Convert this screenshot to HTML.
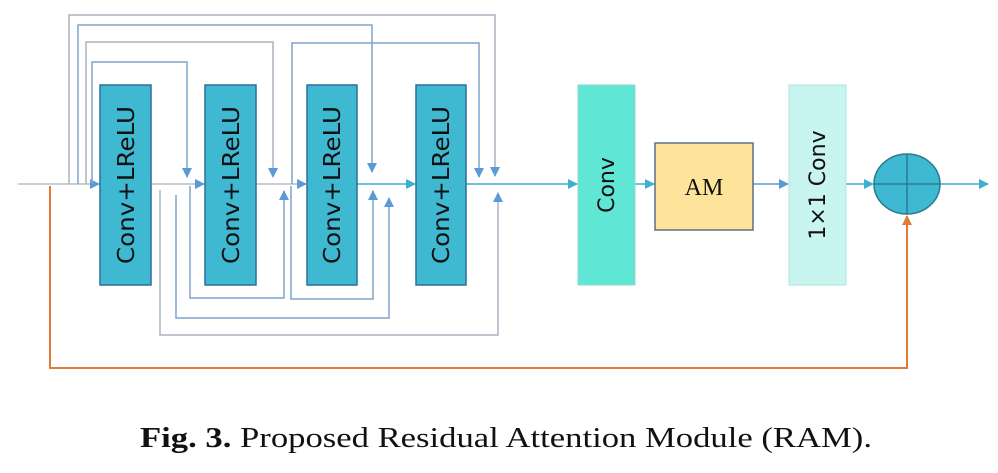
<!DOCTYPE html><html><head><style>body{margin:0;background:#fff}</style></head><body>
<svg width="998" height="468" viewBox="0 0 998 468" xmlns="http://www.w3.org/2000/svg">
<defs>
<marker id="a" markerWidth="10" markerHeight="10" refX="9" refY="5" orient="auto" markerUnits="userSpaceOnUse"><path d="M0,0L10,5L0,10z" fill="#5b9bd5"/></marker>
<marker id="c" markerWidth="10" markerHeight="10" refX="9" refY="5" orient="auto" markerUnits="userSpaceOnUse"><path d="M0,0L10,5L0,10z" fill="#3bb0cf"/></marker>
<marker id="o" markerWidth="10" markerHeight="10" refX="9" refY="5" orient="auto" markerUnits="userSpaceOnUse"><path d="M0,0L10,5L0,10z" fill="#e07b39"/></marker>
</defs>
<g fill="none" stroke-width="1.5">
<path d="M18,184H99" stroke="#b8bec6" marker-end="url(#a)"/>
<path d="M151,184H204" stroke="#b8bec6" marker-end="url(#a)"/>
<path d="M256,184H306" stroke="#b8bec6" marker-end="url(#a)"/>
<path d="M357,184H415" stroke="#3bb0cf" marker-end="url(#c)"/>
<path d="M466,184H577" stroke="#3bb0cf" marker-end="url(#c)"/>
<path d="M635,184H654" stroke="#3bb0cf" marker-end="url(#c)"/>
<path d="M753,184H788" stroke="#5b9bd5" marker-end="url(#a)"/>
<path d="M846,184H873" stroke="#3bb0cf" marker-end="url(#c)"/>
<path d="M940,184H988" stroke="#3bb0cf" marker-end="url(#c)"/>
<path d="M69,184V15H495V176" stroke="#aab4c0" marker-end="url(#a)"/>
<path d="M78,184V25H372V172" stroke="#7ea4cc" marker-end="url(#a)"/>
<path d="M86,184V42H273V177" stroke="#aab4c0" marker-end="url(#a)"/>
<path d="M92,184V62H187V177" stroke="#7ea4cc" marker-end="url(#a)"/>
<path d="M292,184V43H479V177" stroke="#7ea4cc" marker-end="url(#a)"/>
<path d="M160,190V335H498V193" stroke="#aab4c0" marker-end="url(#a)"/>
<path d="M176,195V318H389V198" stroke="#7ea4cc" marker-end="url(#a)"/>
<path d="M190,186V298H284V191" stroke="#7ea4cc" marker-end="url(#a)"/>
<path d="M291,186V299H373V191" stroke="#7ea4cc" marker-end="url(#a)"/>
<path d="M50,186V368H907V216" stroke="#e07b39" stroke-width="2" marker-end="url(#o)"/>
</g>
<g fill="#3fb8d2" stroke="#2d6e9a" stroke-width="1.5">
<rect x="100" y="85" width="51" height="200"/><rect x="205" y="85" width="51" height="200"/><rect x="307" y="85" width="50" height="200"/><rect x="416" y="85" width="50" height="200"/>
</g>
<rect x="578" y="85" width="57" height="200" fill="#5fe6d4" stroke="#8ed8cc"/>
<rect x="655" y="143" width="98" height="87" fill="#fde49a" stroke="#5a6e88" stroke-width="1.5"/>
<rect x="789" y="85" width="57" height="200" fill="#c8f5ef" stroke="#a8e4dc"/>
<ellipse cx="907" cy="184" rx="33" ry="30" fill="#3fb8d2" stroke="#2a7a94" stroke-width="1.5"/>
<path d="M874,184H940M907,154V214" stroke="#2a7a94" stroke-width="1.5"/>
<g font-family="DejaVu Sans, sans-serif" font-size="23" fill="#111" text-anchor="middle">
<text transform="translate(134,185) rotate(-90)" textLength="158" lengthAdjust="spacingAndGlyphs">Conv+LReLU</text>
<text transform="translate(239,185) rotate(-90)" textLength="158" lengthAdjust="spacingAndGlyphs">Conv+LReLU</text>
<text transform="translate(340,185) rotate(-90)" textLength="158" lengthAdjust="spacingAndGlyphs">Conv+LReLU</text>
<text transform="translate(449,185) rotate(-90)" textLength="158" lengthAdjust="spacingAndGlyphs">Conv+LReLU</text>
<text transform="translate(614,185) rotate(-90)" font-size="22">Conv</text>
<text transform="translate(825,185) rotate(-90)" font-size="22">1×1 Conv</text>
</g>
<text x="704" y="195" font-family="Liberation Serif, serif" font-size="24" text-anchor="middle" fill="#111">AM</text>
<text x="140" y="447" font-family="Liberation Serif, serif" font-size="28" fill="#111" textLength="732" lengthAdjust="spacingAndGlyphs"><tspan font-weight="bold">Fig. 3.</tspan>  Proposed Residual Attention Module (RAM).</text>
</svg>
</body></html>
